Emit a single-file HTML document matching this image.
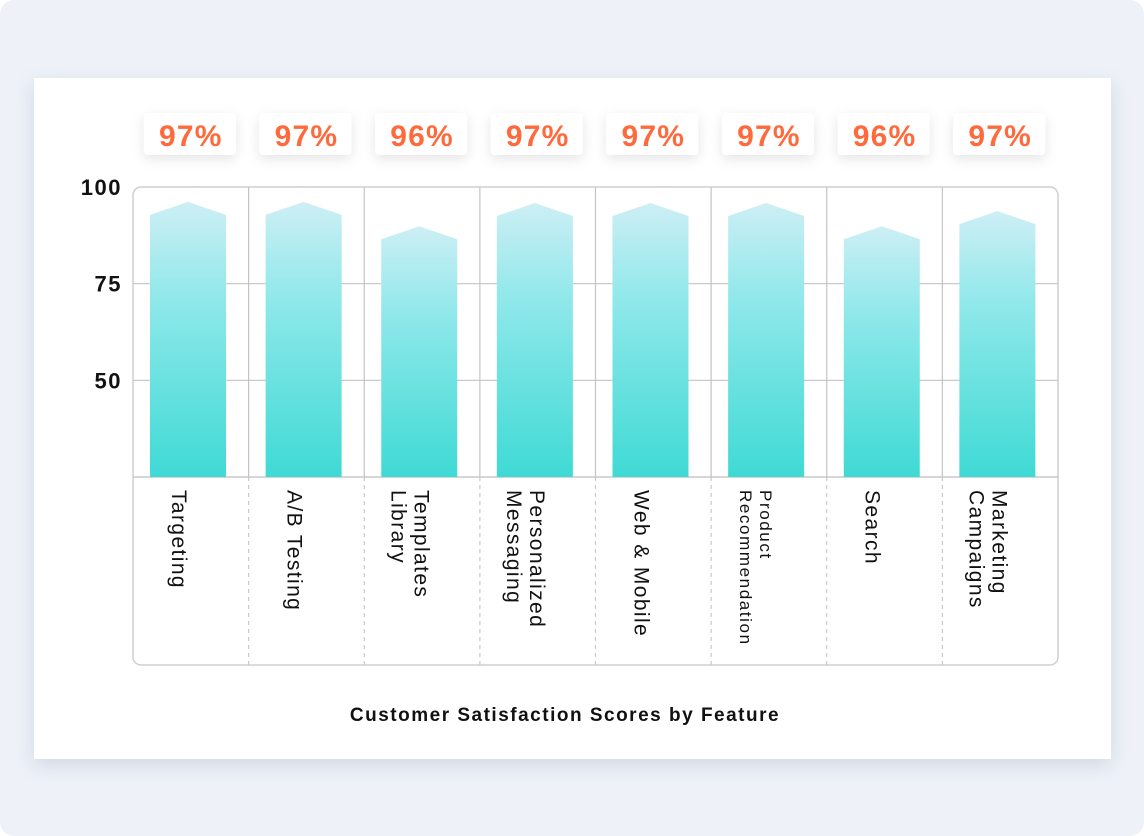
<!DOCTYPE html>
<html><head><meta charset="utf-8"><style>
body{margin:0;background:#fff;}
#wrap{position:relative;width:1144px;height:836px;background:#eef2f8;border-radius:14px;overflow:hidden;font-family:"Liberation Sans",sans-serif;}
#card{position:absolute;left:34px;top:78px;width:1077px;height:681px;background:#fff;box-shadow:0 6px 18px rgba(120,140,170,0.25);}
svg{position:absolute;left:0;top:0;}
</style></head><body>
<div id="wrap">
<div id="card"></div>
<svg id="chart" width="1144" height="836">
<defs>
<linearGradient id="g" x1="0" y1="0" x2="0" y2="1"><stop offset="0" stop-color="#cdeff5"/><stop offset="0.35" stop-color="#90e8ea"/><stop offset="1" stop-color="#3fdad5"/></linearGradient>
<filter id="sh" x="-30%" y="-50%" width="160%" height="220%"><feDropShadow dx="0" dy="4" stdDeviation="6" flood-color="#000" flood-opacity="0.10"/></filter>
</defs>
</svg>
</div>
<script>
const categories=[["Targeting"],["A/B Testing"],["Templates","Library"],["Personalized","Messaging"],["Web & Mobile"],["Product","Recommendation"],["Search"],["Marketing","Campaigns"]];
const values=[92.8,92.8,86.5,92.5,92.5,92.5,86.5,90.4];
const pctLabels=["97%","97%","96%","97%","97%","97%","96%","97%"];
const yTicks=[100,75,50];
const NS="http://www.w3.org/2000/svg";
const svg=document.getElementById('chart');
const L=133,R=1058,T=187,B=477,BOT=665,colW=(R-L)/8;
const y=v=>B-(v-25)*(B-T)/75;
function mk(t,a,p){const e=document.createElementNS(NS,t);for(const k in a)e.setAttribute(k,a[k]);(p||svg).appendChild(e);return e;}
const fr=mk('rect',{x:L,y:T,width:R-L,height:BOT-T,rx:8,fill:'none',stroke:'#cfcfcf','stroke-width':1.5});


mk('line',{x1:L,y1:B,x2:R,y2:B,stroke:'#bdbdbd','stroke-width':1.2});
yTicks.forEach(v=>{
  if(v<100){const gl=mk('line',{x1:L,y1:y(v),x2:R,y2:y(v),stroke:'#c4c4c4','stroke-width':1.2});
  
  }
  const t=mk('text',{x:122,y:y(v)+8,'text-anchor':'end','font-size':22,'font-weight':'bold','letter-spacing':1.5,fill:'#111'});
  t.textContent=v;
  
  
});
for(let i=1;i<8;i++){
  const x=L+i*colW;
  mk('line',{x1:x,y1:T,x2:x,y2:B,stroke:'#c4c4c4','stroke-width':1.2});
  mk('line',{x1:x,y1:B,x2:x,y2:BOT,stroke:'#c8c8c8','stroke-width':1.2,'stroke-dasharray':'4 4'});
}
categories.forEach((c,i)=>{
  const x0=L+i*colW+17,w=76,top=y(values[i]),pk=top-13;
  const b=mk('polygon',{points:`${x0},${B} ${x0},${top} ${x0+w/2},${pk} ${x0+w},${top} ${x0+w},${B}`,fill:'url(#g)'});
  
  
  const cx=L+i*colW+colW/2-1;
  const r=mk('rect',{x:cx-46,y:113,width:92,height:42,rx:4,fill:'#fff',filter:'url(#sh)'});
  
  
  const t=mk('text',{x:cx+1,y:146,'text-anchor':'middle','font-size':30,'font-weight':'bold','letter-spacing':1.2,fill:'#ff6a3d'});
  t.textContent=pctLabels[i];
  
  
  const lx=L+i*colW+colW/2-12;
  const small=(c[0]==='Product');
  const n=c.length,fs=small?17:21,lh=small?20:23,ls=small?1.6:1.4;
  c.forEach((line,j)=>{
    const off=(n-1)*lh/2 - j*lh;
    const tx=lx+off;
    const tt=mk('text',{x:0,y:0,'font-size':fs,'letter-spacing':ls,fill:'#111',transform:`translate(${tx-7},490) rotate(90)`});
    tt.textContent=line;
    
    
  });
});
const title=mk('text',{x:565,y:721,'text-anchor':'middle','font-size':19,'font-weight':'bold','letter-spacing':1.5,fill:'#111'});
title.textContent='Customer Satisfaction Scores by Feature';


</script>
</body></html>
